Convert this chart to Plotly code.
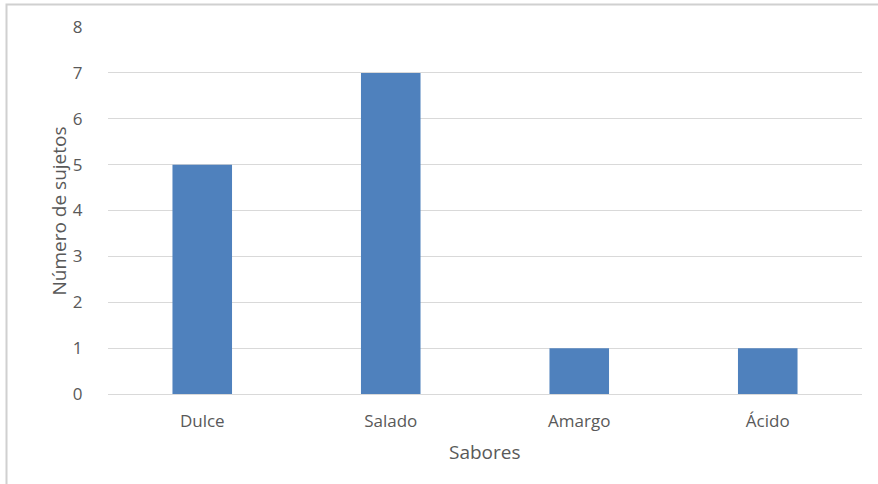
import plotly.graph_objects as go

# Sabores y número de sujetos que prefieren cada uno
sabores = ["Dulce", "Salado", "Amargo", "Ácido"]
sujetos = [5, 7, 1, 1]
y_ticks = [0, 1, 2, 3, 4, 5, 6, 7, 8]

W, H = 878, 484
L, R, T, B = 108, 16, 27, 90
pw, ph = W - L - R, H - T - B

font_family = "'Open Sans', 'Noto Sans', sans-serif"
gray = "#595959"

fig = go.Figure(
    go.Bar(
        x=sabores,
        y=sujetos,
        marker=dict(color="#4F81BD", line=dict(width=0)),
        hoverinfo="x+y",
    )
)

fig.update_layout(
    width=W,
    height=H,
    margin=dict(l=L, r=R, t=T, b=B),
    paper_bgcolor="white",
    plot_bgcolor="white",
    bargap=0.684,
    showlegend=False,
    font=dict(family=font_family, color=gray, size=17),
)

fig.update_xaxes(
    showgrid=False,
    showline=True,
    linecolor="#D9D9D9",
    linewidth=1,
    ticks="outside",
    ticklen=12,
    tickcolor="rgba(0,0,0,0)",
    tickfont=dict(size=17, color=gray),
)

fig.update_yaxes(
    range=[0, 8],
    tickvals=y_ticks,
    showgrid=True,
    gridcolor="#D9D9D9",
    gridwidth=1,
    zeroline=False,
    showline=False,
    ticks="outside",
    ticklen=21,
    tickcolor="rgba(0,0,0,0)",
    tickfont=dict(size=17, color=gray),
)

# Títulos de los ejes
fig.add_annotation(
    text="Sabores",
    xref="paper", yref="paper",
    x=0.5, y=(T + ph - 452) / ph,
    yanchor="middle", xanchor="center",
    showarrow=False,
    font=dict(size=19, color=gray),
)
fig.add_annotation(
    text="Número de sujetos",
    xref="paper", yref="paper",
    x=(58 - L) / pw, y=0.5,
    xanchor="center", yanchor="middle",
    textangle=-90,
    showarrow=False,
    font=dict(size=19, color=gray),
)

# Marco del gráfico
fig.add_shape(
    type="rect",
    xref="paper", yref="paper",
    x0=(6.5 - L) / pw, x1=(W + 10 - L) / pw,
    y0=(T + ph - (H + 10)) / ph, y1=(T + ph - 4.5) / ph,
    line=dict(color="#D0D0D0", width=2),
    fillcolor="rgba(0,0,0,0)",
    layer="below",
)

fig.write_html("out.html")
